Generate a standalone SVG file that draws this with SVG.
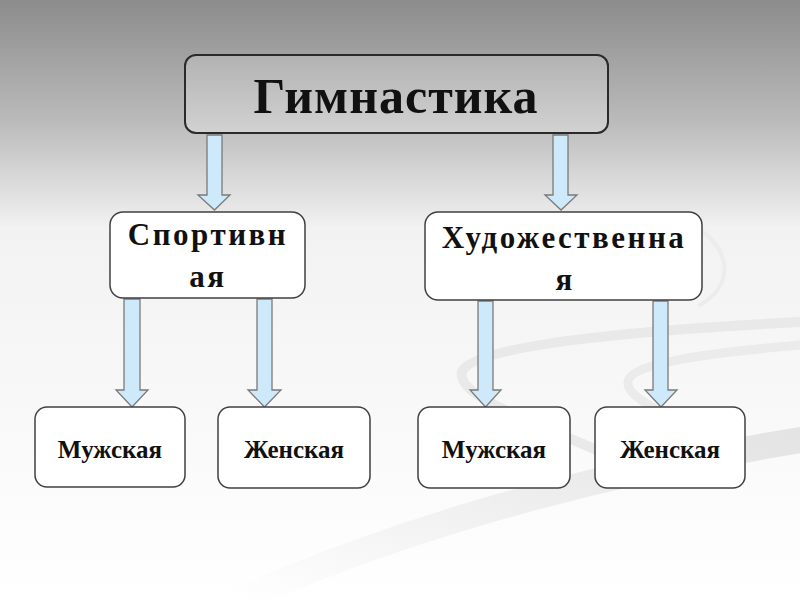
<svg xmlns="http://www.w3.org/2000/svg" width="800" height="600" viewBox="0 0 800 600">
<defs>
<linearGradient id="bg" x1="0" y1="0" x2="0" y2="1">
<stop offset="0" stop-color="#8c8c8c"/>
<stop offset="0.2" stop-color="#bababa"/>
<stop offset="0.38" stop-color="#f2f2f2"/>
<stop offset="1" stop-color="#ffffff"/>
</linearGradient>
<linearGradient id="title" x1="0" y1="0" x2="0" y2="1">
<stop offset="0" stop-color="#b2b2b2"/>
<stop offset="1" stop-color="#d2d2d2"/>
</linearGradient>
<linearGradient id="rib" x1="0" y1="1" x2="1" y2="0">
<stop offset="0" stop-color="#ffffff"/>
<stop offset="0.5" stop-color="#f0f0f0"/>
<stop offset="1" stop-color="#e4e4e4"/>
</linearGradient>
<style>
.box{fill:#ffffff;stroke:#404040;stroke-width:1.5}
.arr{fill:#cde9fa;stroke:#7a7a7a;stroke-width:1.3}
.t{font-family:"Liberation Serif","Times New Roman",serif;font-weight:bold;fill:#111;text-anchor:middle}
.sw{fill:none;stroke-linecap:round}
</style>
</defs>
<rect width="800" height="600" fill="url(#bg)"/>
<g id="background-swooshes">
<path class="sw" d="M240 600 C 420 520 620 470 800 440" stroke-width="26" stroke="url(#rib)"/>
<path class="sw" d="M800 322 C 640 330 470 345 462 372 C 455 400 560 430 640 470" stroke-width="10" stroke="#e9e9e9"/>
<path class="sw" d="M800 345 C 720 352 630 362 628 382 C 626 400 680 420 720 440" stroke-width="9" stroke="#ebebeb"/>
<path class="sw" d="M700 230 C 730 250 735 285 700 305" stroke-width="4" stroke="#ececec"/>
</g>
<g id="connectors">
<path class="arr" d="M207 135 H222 V195 H230 L214.5 210 L198 195 H207 Z"/>
<path class="arr" d="M553 135 H568 V195 H577 L561 210 L545 195 H553 Z"/>
<path class="arr" d="M124 299 H140 V390 H148 L132 407 L116 390 H124 Z"/>
<path class="arr" d="M257 299 H272 V390 H281 L264.5 407 L248 390 H257 Z"/>
<path class="arr" d="M478 301 H493 V390 H501 L485.5 407 L470 390 H478 Z"/>
<path class="arr" d="M653 301 H668 V390 H677 L661 407 L645 390 H653 Z"/>
</g>
<g id="node-gymnastics">
<rect x="185" y="55" width="423" height="78" rx="11" fill="url(#title)" stroke="#2a2a2a" stroke-width="2"/>
<text class="t" x="396" y="113" font-size="50" letter-spacing="1">Гимнастика</text>
</g>
<g id="node-sport">
<rect class="box" x="110" y="212" width="195" height="86" rx="13"/>
<text class="t" x="208" y="245" font-size="31" letter-spacing="2.5">Спортивн</text>
<text class="t" x="208" y="287" font-size="31" letter-spacing="2.5">ая</text>
</g>
<g id="node-art">
<rect class="box" x="425" y="212" width="277" height="88" rx="13"/>
<text class="t" x="564" y="248" font-size="31" letter-spacing="2.5">Художественна</text>
<text class="t" x="564" y="290" font-size="31">я</text>
</g>
<g id="node-sport-men">
<rect class="box" x="35" y="407" width="150" height="80" rx="12"/>
<text class="t" x="110" y="458" font-size="25">Мужская</text>
</g>
<g id="node-sport-women">
<rect class="box" x="218" y="407" width="152" height="81" rx="12"/>
<text class="t" x="294" y="458" font-size="25">Женская</text>
</g>
<g id="node-art-men">
<rect class="box" x="418" y="407" width="152" height="81" rx="12"/>
<text class="t" x="494" y="458" font-size="25">Мужская</text>
</g>
<g id="node-art-women">
<rect class="box" x="595" y="407" width="150" height="81" rx="12"/>
<text class="t" x="670" y="458" font-size="25">Женская</text>
</g>
</svg>
